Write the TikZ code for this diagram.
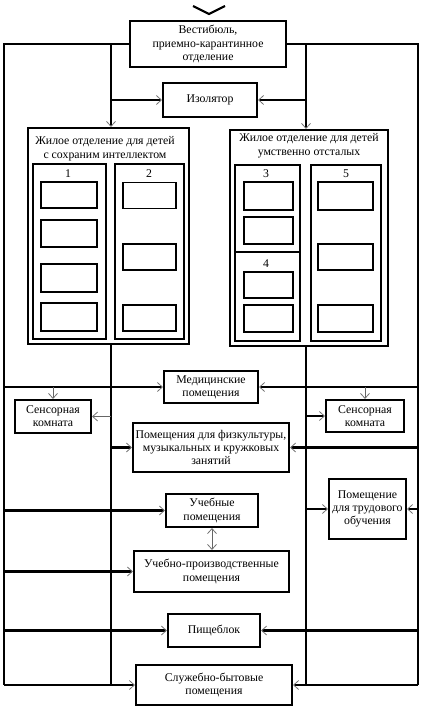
\documentclass[tikz,border=0pt]{standalone}
\usepackage{fontspec}
\setmainfont{Liberation Serif}
\usetikzlibrary{arrows.meta}
\begin{document}
\begin{tikzpicture}[x=1pt,y=-1pt,
  ln/.style={line width=2.1pt, line join=miter},
  tipA/.tip={Straight Barb[length=5pt,width=9pt,line width=0.8pt,color=black!55]},
  arr/.style={ln,-tipA},
  thinarr/.style={line width=0.7pt, draw=black!60, -tipA},
  dblarr/.style={line width=0.7pt, draw=black!60, tipA-tipA},
  box/.style={draw, line width=2.1pt, align=center, inner sep=1pt,
     font=\fontsize{11.8}{13.2}\selectfont},
  cell/.style={draw, line width=1.9pt, inner sep=0pt},
  lbl/.style={inner sep=0pt, font=\fontsize{11.8}{13.8}\selectfont, align=center}]
\useasboundingbox (0,0) rectangle (423,714);
% top chevron
\draw[line width=2.1pt] (193,6) -- (209,14) -- (225,6);
% main boxes
\node[box, minimum width=156pt, minimum height=46pt] (vest) at (208,44) {Вестибюль,\\приемно-карантинное\\отделение};
\node[box, minimum width=94pt, minimum height=34pt] (iso) at (210,100) {Изолятор};
\node[box, minimum width=161pt, minimum height=216pt] (zl) at (108.5,236) {};
\node[box, minimum width=158pt, minimum height=216pt] (zr) at (309,238) {};
\node[lbl, anchor=north] (zlt) at (105,136) {Жилое отделение для детей\\с сохраним интеллектом};
\node[lbl, anchor=north] (zrt) at (309,133) {Жилое отделение для детей\\умственно отсталых};
\node[box, minimum width=73pt, minimum height=175pt] (b1) at (69.5,251.5) {};
\node[box, minimum width=69pt, minimum height=175pt] (b2) at (149.5,251.5) {};
\node[box, minimum width=65pt, minimum height=176pt] (b34) at (267.5,253) {};
\node[box, minimum width=70pt, minimum height=176pt] (b5) at (346,253) {};
\coordinate (d34) at (0,252);
\draw[ln] (b34.west |- d34) -- (b34.east |- d34);
\node[lbl] (n1) at (68,174) {1};
\node[lbl] (n2) at (149,174) {2};
\node[lbl] (n3) at (266,174) {3};
\node[lbl] (n4) at (266,264) {4};
\node[lbl] (n5) at (346,174) {5};
% cells
\node[cell, minimum width=56pt, minimum height=26pt] (c11) at (69,195) {};
\node[cell, minimum width=56pt, minimum height=27pt] (c12) at (69,233.5) {};
\node[cell, minimum width=56pt, minimum height=28pt] (c13) at (69,278) {};
\node[cell, minimum width=56pt, minimum height=28pt] (c14) at (69,317) {};
\node[cell, minimum width=53pt, minimum height=26pt] (c21) at (149.5,195.5) {};
\node[cell, minimum width=53pt, minimum height=26pt] (c22) at (149.5,257) {};
\node[cell, minimum width=53pt, minimum height=26pt] (c23) at (149.5,318) {};
\node[cell, minimum width=49pt, minimum height=28pt] (c31) at (268.5,196) {};
\node[cell, minimum width=49pt, minimum height=27pt] (c32) at (268.5,230.5) {};
\node[cell, minimum width=49pt, minimum height=26pt] (c41) at (268.5,285) {};
\node[cell, minimum width=49pt, minimum height=27pt] (c42) at (268.5,318.5) {};
\node[cell, minimum width=55pt, minimum height=28pt] (c51) at (345.5,196) {};
\node[cell, minimum width=55pt, minimum height=26pt] (c52) at (345.5,257) {};
\node[cell, minimum width=55pt, minimum height=27pt] (c53) at (345.5,318.5) {};
% lower boxes
\node[box, minimum width=94pt, minimum height=32pt] (med) at (211,387) {Медицинские\\помещения};
\node[box, minimum width=76pt, minimum height=33pt] (sl) at (53,416.5) {Сенсорная\\комната};
\node[box, minimum width=78pt, minimum height=32pt] (sr) at (365,416) {Сенсорная\\комната};
\node[box, minimum width=156pt, minimum height=49pt] (fiz) at (211,447.5) {Помещения для физкультуры,\\музыкальных и кружковых\\занятий};
\node[box, minimum width=92pt, minimum height=33pt] (ucheb) at (212,510.5) {Учебные\\помещения};
\node[box, minimum width=155pt, minimum height=41pt] (up) at (211.5,571.5) {Учебно-производственные\\помещения};
\node[box, minimum width=77pt, minimum height=60pt] (trud) at (367.5,509) {Помещение\\для трудового\\обучения};
\node[box, minimum width=92pt, minimum height=33pt] (pish) at (214,630.5) {Пищеблок};
\node[box, minimum width=156pt, minimum height=40pt] (sluzh) at (214,685) {Служебно-бытовые\\помещения};
% frame coordinates
\coordinate (oTL) at (4,44);
\coordinate (oBL) at (4,685);
\coordinate (oTR) at (418,44);
\coordinate (oBR) at (418,685);
\coordinate (iTL) at (111,44);
\coordinate (iBL) at (111,685);
\coordinate (iTR) at (306,44);
\coordinate (iBR) at (306,685);
% frame
\draw[ln] (vest.west) -- (oTL) -- (oBL);
\draw[ln] (vest.east) -- (oTR) -- (oBR);
\draw[arr] (oBL) -- (sluzh.west);
\draw[arr] (oBR) -- (sluzh.east);
% inner verticals
\draw[arr] (iTL) -- (iTL |- zl.north);
\draw[arr] (iTR) -- (iTR |- zr.north);
\draw[ln] (iTL |- zl.south) -- (iBL);
\draw[ln] (iTR |- zr.south) -- (iBR);
% connectors
\draw[arr] (iTL |- iso.west) -- (iso.west);
\draw[arr] (iTR |- iso.east) -- (iso.east);
\draw[arr] (oTL |- med.west) -- (med.west);
\draw[arr] (oTR |- med.east) -- (med.east);
\draw[thinarr] (sl.north |- med.west) -- (sl.north);
\draw[thinarr] (sr.north |- med.east) -- (sr.north);
\draw[thinarr] (iTL |- sl.east) -- (sl.east);
\draw[arr] (iTR |- sr.west) -- (sr.west);
\draw[arr] (iTL |- fiz.west) -- (fiz.west);
\draw[arr] (oTR |- fiz.east) -- (fiz.east);
\draw[arr] (oTL |- ucheb.west) -- (ucheb.west);
\draw[arr] (iTR |- trud.west) -- (trud.west);
\draw[arr] (oTR |- trud.east) -- (trud.east);
\draw[dblarr] (ucheb.south) -- (ucheb.south |- up.north);
\draw[arr] (oTL |- up.west) -- (up.west);
\draw[arr] (oTL |- pish.west) -- (pish.west);
\draw[arr] (oTR |- pish.east) -- (pish.east);
\end{tikzpicture}
\end{document}
